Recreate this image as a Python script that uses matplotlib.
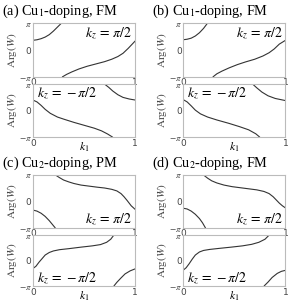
import numpy as np
import matplotlib.pyplot as plt

plt.rcParams['mathtext.fontset'] = 'stix'

# Arg(W)/pi sampled along k1, one list of segments per sub-panel (wrapped at +-pi)
a_top = [([0, 0.04, 0.08, 0.12, 0.16, 0.2, 0.24, 0.28],
          [0.36, 0.38, 0.42, 0.48, 0.57, 0.70, 0.85, 1.0]),
         ([0.285, 0.33, 0.38, 0.45, 0.53, 0.62, 0.70, 0.77, 0.83, 0.88, 0.93, 0.97, 1.0],
          [-1.0, -0.90, -0.81, -0.70, -0.60, -0.51, -0.43, -0.34, -0.24, -0.12, 0.06, 0.22, 0.34])]
a_bot = [([0, 0.04, 0.08, 0.12, 0.17, 0.24, 0.31, 0.4, 0.5, 0.6, 0.67, 0.73, 0.78],
          [0.40, 0.33, 0.20, 0.05, -0.10, -0.24, -0.33, -0.44, -0.55, -0.66, -0.76, -0.88, -1.0]),
         ([0.70, 0.74, 0.78, 0.83, 0.88, 0.94, 1.0],
          [1.0, 0.88, 0.74, 0.60, 0.50, 0.44, 0.40])]
b_top = [([0, 0.04, 0.08, 0.12, 0.16, 0.2, 0.24],
          [0.38, 0.40, 0.44, 0.52, 0.64, 0.80, 1.0]),
         ([0.29, 0.33, 0.38, 0.45, 0.53, 0.61, 0.70, 0.78, 0.84, 0.89, 0.94, 1.0],
          [-1.0, -0.88, -0.78, -0.66, -0.54, -0.44, -0.34, -0.22, -0.10, 0.04, 0.22, 0.36])]
b_bot = [([0, 0.04, 0.08, 0.12, 0.17, 0.24, 0.33, 0.45, 0.55, 0.64, 0.71, 0.75],
          [0.42, 0.33, 0.18, 0.02, -0.12, -0.24, -0.35, -0.48, -0.60, -0.72, -0.87, -1.0]),
         ([0.68, 0.72, 0.77, 0.83, 0.9, 1.0],
          [1.0, 0.86, 0.70, 0.56, 0.46, 0.38])]
c_top = [([0, 0.04, 0.08, 0.12, 0.16, 0.19, 0.22],
          [-0.32, -0.36, -0.44, -0.56, -0.72, -0.86, -1.0]),
         ([0.22, 0.26, 0.30, 0.35, 0.40, 0.47, 0.55, 0.63, 0.70, 0.77, 0.82, 0.86, 0.89, 0.92, 0.96, 1.0],
          [1.0, 0.90, 0.81, 0.74, 0.68, 0.62, 0.58, 0.54, 0.51, 0.46, 0.40, 0.30, 0.18, 0.04, -0.16, -0.30])]
c_bot = [([0, 0.03, 0.06, 0.09, 0.12, 0.16, 0.2, 0.26, 0.35, 0.47, 0.58, 0.66, 0.72, 0.76, 0.79],
          [-0.31, -0.22, -0.06, 0.08, 0.22, 0.32, 0.38, 0.43, 0.47, 0.53, 0.58, 0.63, 0.72, 0.84, 1.0]),
         ([0.79, 0.82, 0.86, 0.9, 0.95, 1.0],
          [-1.0, -0.85, -0.68, -0.52, -0.40, -0.32])]
d_top = [([0, 0.04, 0.08, 0.12, 0.16, 0.19, 0.22],
          [-0.25, -0.28, -0.36, -0.48, -0.64, -0.80, -1.0]),
         ([0.20, 0.24, 0.28, 0.33, 0.40, 0.48, 0.56, 0.64, 0.72, 0.79, 0.84, 0.88, 0.91, 0.94, 0.97, 1.0],
          [1.0, 0.88, 0.78, 0.70, 0.62, 0.56, 0.52, 0.48, 0.44, 0.38, 0.30, 0.18, 0.06, -0.06, -0.16, -0.24])]
d_bot = [([0, 0.03, 0.06, 0.09, 0.12, 0.16, 0.2, 0.26, 0.35, 0.47, 0.58, 0.67, 0.74, 0.8, 0.84],
          [-0.38, -0.28, -0.12, 0.06, 0.22, 0.34, 0.40, 0.44, 0.48, 0.53, 0.58, 0.64, 0.72, 0.84, 1.0]),
         ([0.79, 0.83, 0.87, 0.92, 0.96, 1.0],
          [-1.0, -0.84, -0.66, -0.50, -0.42, -0.38])]

titles = [r'(a) Cu$_1$-doping, FM', r'(b) Cu$_1$-doping, FM',
          r'(c) Cu$_2$-doping, PM', r'(d) Cu$_2$-doping, FM']
panels = [(a_top, a_bot), (b_top, b_bot), (c_top, c_bot), (d_top, d_bot)]
kz_labels = [r'$k_z\,=\,\pi/2$', r'$k_z\,=\,-\pi/2$']

fig = plt.figure(figsize=(2.91, 3.07), dpi=100)

lefts = [0.113, 0.629, 0.113, 0.629]
# (bottom, height) of upper and lower axes for each panel row
rows = [[(0.749, 0.176), (0.553, 0.173)], [(0.257, 0.173), (0.068, 0.166)]]
title_y = [0.962, 0.468]
frame = '#bbbbbb'

for i, (title, (top, bot)) in enumerate(zip(titles, panels)):
    r = i // 2
    fig.text(lefts[i] - 0.107, title_y[r], title, fontsize=10.3, family='Liberation Serif', va='center')
    for j, segs in enumerate([top, bot]):
        b, h = rows[r][j]
        ax = fig.add_axes([lefts[i], b, 0.352, h])
        for x, y in segs:
            ax.plot(x, np.array(y) * np.pi, color='#333333', lw=0.8, solid_capstyle='butt')
        ax.set_xlim(0, 1)
        ax.set_ylim(-np.pi, np.pi)
        ax.set_xticks([0, 1])
        ax.set_xticklabels(['0', '1'])
        ax.set_yticks([-np.pi, 0, np.pi])
        ax.set_yticklabels([r'$-\pi$', '0', r'$\pi$'])
        ax.tick_params(labelsize=6.5, length=0, pad=1, colors='#444444')
        ax.set_ylabel(r'$\mathrm{Arg}(W)$', fontsize=8, labelpad=0, color='#444444')
        for s in ax.spines.values():
            s.set_color(frame)
            s.set_linewidth(0.8)
        if j == 1:
            ax.set_xlabel(r'$k_1$', fontsize=8.5, labelpad=-5)
        # kz annotation position depends on the panel row
        if r == 0:
            pos = (0.97, 0.82, 'right') if j == 0 else (0.04, 0.82, 'left')
        else:
            pos = (0.97, 0.16, 'right') if j == 0 else (0.04, 0.16, 'left')
        ax.text(pos[0], pos[1], kz_labels[j], transform=ax.transAxes, fontsize=10,
                ha=pos[2], va='center')

fig.savefig('out.png', dpi=100)
